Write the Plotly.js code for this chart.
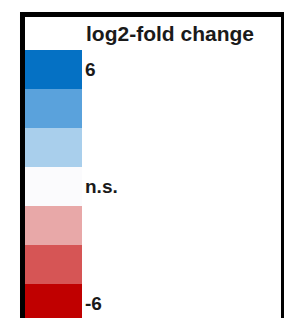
<!DOCTYPE html>
<html>
<head>
<meta charset="utf-8">
<script src="https://cdn.plot.ly/plotly-3.0.1.min.js"></script>
<style>html,body{margin:0;padding:0;background:#fff;}#chart{width:284px;height:318px;}</style>
</head>
<body>
<div id="chart"></div>
<script>
// legend levels, top to bottom
var levels = ['6', '4', '2', '0', '-2', '-4', '-6'];
var levelLabels = ['6', '', '', 'n.s.', '', '', '-6'];
var levelColors = ['#0571c4', '#5aa2dc', '#a9cfec', '#fbfbfd', '#e8a8a8', '#d65555', '#c00000'];
var blockSize = [1, 1, 1, 1, 1, 1, 1];
var legendTitle = 'log2-fold change';

var n = levels.length;
var bases = levels.map(function (_, i) { return n - 1 - i; });
var centers = bases.map(function (b) { return b + 0.5; });

var trace = {
  type: 'bar',
  x: levels.map(function () { return 0; }),
  y: blockSize,
  base: bases,
  marker: { color: levelColors, line: { width: 0 } },
  width: 1,
  hoverinfo: 'skip',
  showlegend: false
};

var layout = {
  width: 284,
  height: 318,
  margin: { l: 25, r: 202, t: 50, b: 0, pad: 0 },
  paper_bgcolor: '#ffffff',
  plot_bgcolor: '#ffffff',
  barmode: 'overlay',
  bargap: 0,
  xaxis: { range: [-0.5, 0.5], visible: false, fixedrange: true },
  yaxis: {
    range: [0.128, 7],
    side: 'right',
    tickmode: 'array',
    tickvals: centers,
    ticktext: levelLabels,
    ticks: '',
    ticklabelstandoff: 2,
    showgrid: false,
    zeroline: false,
    showline: false,
    tickfont: { family: 'Liberation Sans, Arial, sans-serif', size: 19, color: '#1a1a1a', weight: 'bold' },
    fixedrange: true
  },
  title: {
    text: legendTitle,
    x: 86 / 284,
    xanchor: 'left',
    xref: 'container',
    y: 1 - 34 / 318,
    yanchor: 'middle',
    yref: 'container',
    font: { family: 'Liberation Sans, Arial, sans-serif', size: 21, color: '#1a1a1a', weight: 'bold' }
  },
  shapes: [{
    type: 'rect',
    xref: 'paper', yref: 'paper',
    x0: -0.0439, x1: 4.535,
    y0: -0.2, y1: 1.1325,
    line: { color: '#000000', width: 5 },
    fillcolor: 'rgba(0,0,0,0)',
    layer: 'above'
  }],
  showlegend: false
};

Plotly.newPlot('chart', [trace], layout, { displayModeBar: false, staticPlot: true });
</script>
</body>
</html>
